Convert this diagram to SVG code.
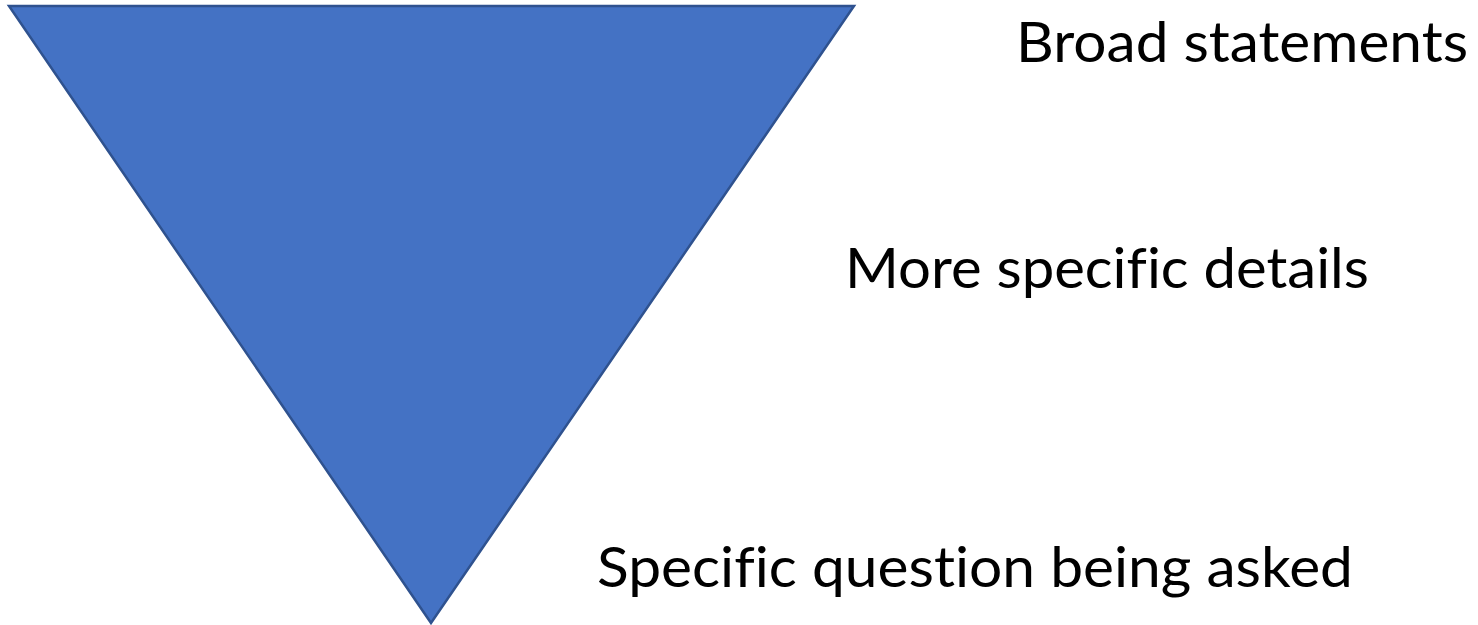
<svg xmlns="http://www.w3.org/2000/svg" width="1478" height="625" viewBox="0 0 1478 625">
<style>
.lbl{font-family:"Lato","Open Sans","Liberation Sans",sans-serif;font-size:56px;fill:#000;font-variant-ligatures:none}
.tri{fill:#4472C4;stroke:#2F528F;stroke-width:2.5;stroke-linejoin:miter}
</style>
<rect width="1478" height="625" fill="#ffffff"/>
<g id="funnel">
<polygon class="tri" points="9,6 854,6 431,623"/>
</g>
<g id="connectors"></g>
<g id="label-broad">
<text class="lbl" x="1016" y="62" textLength="452" lengthAdjust="spacingAndGlyphs">Broad statements</text>
</g>
<g id="label-more">
<text class="lbl" x="845" y="288" textLength="524" lengthAdjust="spacingAndGlyphs">More specific details</text>
</g>
<g id="label-specific">
<text class="lbl" x="597" y="587" textLength="756" lengthAdjust="spacingAndGlyphs">Specific question being asked</text>
</g>
</svg>
